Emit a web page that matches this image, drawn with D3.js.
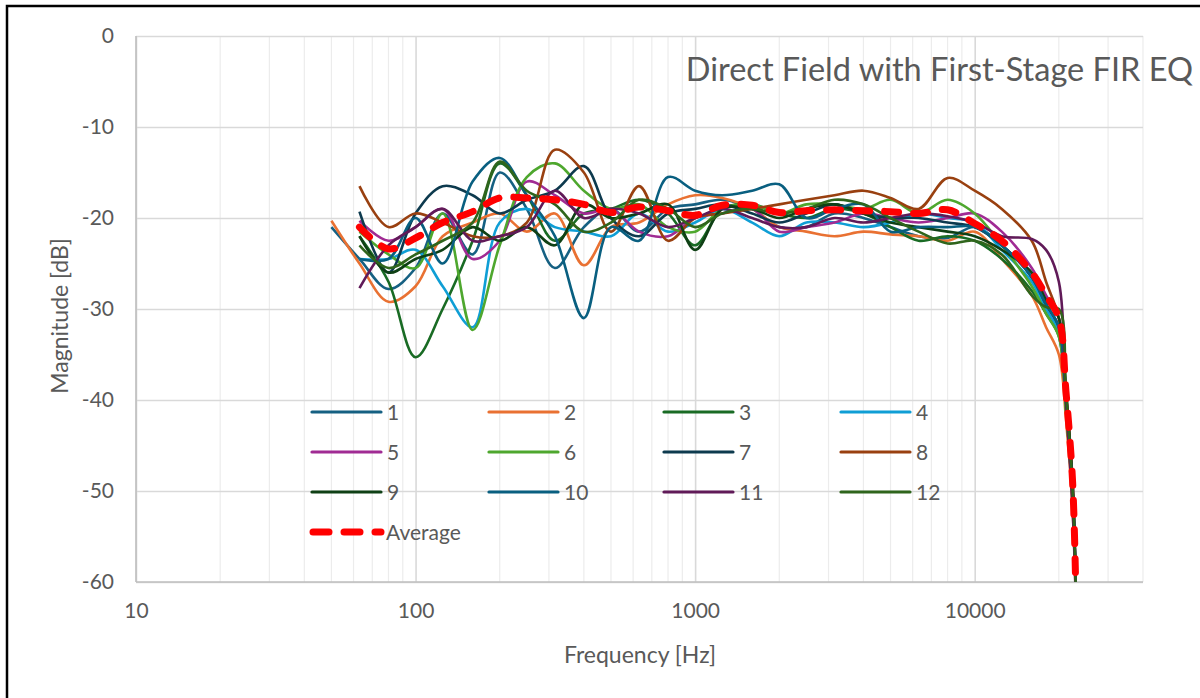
<!DOCTYPE html>
<html>
<head>
<meta charset="utf-8">
<script src="https://cdn.jsdelivr.net/npm/d3@7"></script>
<style>
  body { margin: 0; background: #fff; }
  svg { display: block; font-family: Lato, "Open Sans", sans-serif; }
</style>
</head>
<body>
<svg id="chart" width="1200" height="698"></svg>
<script>
// Frequencies (Hz) shared by every series
var freqs = [50, 63, 80, 100, 125, 160, 200, 250, 315, 400, 500, 630, 800, 1000, 1250, 1600,
    2000, 2500, 3150, 4000, 5000, 6300, 8000, 10000, 12500, 16000, 18000, 20000, 21200, 22400, 23000];

// Magnitudes (dB), null where a series has no point
var s1 = [-21.0, -24.5, -27.8, -25.5, -19.5, -24.0, -15.0, -19.0, -25.5, -21.0, -19.0, -21.5, -19.0, -18.5, -18.0, -19.0,
    -21.0, -21.0, -19.5, -20.0, -21.0, -22.0, -22.2, -21.0, -23.0, -26.5, -29.5, -32.0, -40.0, -50.0, -61.0];
var s2 = [-20.3, -25.0, -29.2, -27.5, -22.0, -20.5, -19.5, -21.5, -19.5, -25.2, -21.0, -20.5, -18.5, -17.5, -17.8, -19.0,
    -21.0, -21.5, -22.0, -21.5, -21.8, -22.0, -22.5, -21.5, -24.5, -28.5, -32.0, -35.0, -42.0, -52.0, -62.0];
var s3 = [null, -22.0, -27.0, -35.3, -30.0, -22.5, -14.0, -17.5, -22.5, -19.5, -19.0, -18.0, -19.5, -23.0, -19.0, -18.5,
    -19.5, -20.0, -19.0, -19.5, -21.0, -22.5, -22.0, -22.5, -24.5, -28.0, -30.5, -33.0, -41.0, -51.0, -61.0];
var s4 = [null, -24.5, -24.5, -23.5, -27.5, -32.0, -20.5, -19.0, -21.0, -21.5, -22.0, -19.5, -21.5, -20.5, -19.0, -20.5,
    -22.0, -20.5, -20.5, -21.0, -20.5, -19.5, -20.0, -20.5, -23.5, -27.0, -30.0, -32.5, -40.0, -50.0, -61.0];
var s5 = [null, -20.3, -22.5, -21.0, -19.0, -24.5, -22.5, -16.0, -17.5, -19.5, -19.0, -21.5, -22.0, -20.0, -19.5, -19.0,
    -21.5, -21.0, -20.5, -19.5, -20.0, -20.5, -20.0, -19.5, -21.5, -25.5, -28.5, -31.0, -39.0, -49.0, -61.0];
var s6 = [null, -21.5, -24.0, -25.5, -19.5, -32.3, -23.0, -15.5, -14.0, -17.0, -19.0, -18.5, -21.0, -21.5, -19.0, -18.5,
    -19.5, -18.5, -18.5, -19.0, -18.0, -19.5, -18.0, -19.5, -23.0, -27.5, -30.5, -33.0, -41.0, -51.0, -61.0];
var s7 = [null, -19.3, -26.0, -19.5, -16.5, -17.5, -19.5, -18.0, -17.0, -14.3, -20.0, -22.0, -19.5, -19.0, -18.5, -19.5,
    -20.5, -19.5, -18.5, -19.5, -20.0, -20.0, -20.5, -21.0, -23.0, -26.5, -29.5, -32.0, -40.0, -50.0, -61.0];
var s8 = [null, -16.5, -21.0, -19.5, -20.5, -22.0, -22.0, -20.5, -12.5, -15.0, -21.5, -16.5, -22.5, -20.0, -19.5, -19.0,
    -18.5, -18.0, -17.5, -17.0, -17.8, -19.0, -15.6, -17.0, -19.0, -22.5, -27.0, -31.0, -39.0, -49.0, -61.0];
var s9 = [null, -22.0, -26.0, -24.5, -23.5, -21.0, -22.5, -21.0, -23.0, -18.5, -20.0, -19.5, -18.5, -23.5, -19.0, -19.0,
    -20.0, -19.0, -18.5, -19.5, -20.5, -21.0, -21.5, -22.0, -23.5, -26.0, -29.0, -31.0, -39.0, -49.0, -61.0];
var s10 = [null, -24.5, -24.5, -20.0, -25.0, -16.0, -13.4, -17.5, -22.0, -31.0, -21.0, -22.5, -15.5, -17.0, -17.5, -17.0,
    -16.3, -20.0, -19.0, -18.5, -21.5, -21.0, -21.0, -21.0, -23.0, -26.5, -29.5, -32.0, -40.0, -50.0, -61.0];
var s11 = [null, -27.7, -23.0, -21.0, -19.0, -22.5, -22.0, -21.0, -17.0, -20.0, -19.0, -19.5, -21.0, -20.0, -19.0, -20.0,
    -21.0, -21.0, -20.0, -20.5, -20.0, -19.5, -19.8, -20.5, -22.0, -22.3, -23.5, -27.0, -40.0, -52.0, -62.0];
var s12 = [null, -23.0, -25.5, -24.0, -22.5, -20.5, -13.8, -17.0, -18.5, -21.5, -20.5, -18.0, -19.0, -21.0, -19.5, -19.0,
    -19.5, -19.0, -18.0, -18.5, -20.0, -21.5, -22.8, -22.5, -24.0, -28.5, -29.8, -30.0, -39.0, -50.0, -61.0];
var avg = [null, -21.0, -23.4, -22.2, -20.5, -19.3, -17.8, -17.8, -18.0, -18.5, -19.4, -18.8, -19.2, -19.7, -18.6, -18.6,
    -19.4, -19.2, -19.1, -19.2, -19.3, -19.5, -19.1, -20.6, -22.5, -26.0, -28.5, -31.0, -39.0, -49.0, -61.0];

var seriesValues = [s1, s2, s3, s4, s5, s6, s7, s8, s9, s10, s11, s12];
var seriesNames = ["1", "2", "3", "4", "5", "6", "7", "8", "9", "10", "11", "12"];
var seriesColors = ["#156082", "#E97132", "#196B24", "#0F9ED5", "#A02B93", "#4EA72E",
    "#0D3A4E", "#994010", "#0F4015", "#095F80", "#601A58", "#2F651C"];

var xTicks = [10, 100, 1000, 10000];
var yTicks = [0, -10, -20, -30, -40, -50, -60];

// Define margins
var margin = { top: 36, right: 57, bottom: 116, left: 136 },
    width = 1200 - margin.left - margin.right,
    height = 698 - margin.top - margin.bottom;

var grey = "#595959";

var root = d3.select("#chart");

// Outer frame of the pasted picture
root.append("rect")
    .attr("x", 7).attr("y", 6)
    .attr("width", 1400).attr("height", 900)
    .attr("fill", "none")
    .attr("stroke", "#000")
    .attr("stroke-width", 2.5);

var svg = root.append("g")
    .attr("transform", "translate(" + margin.left + "," + margin.top + ")");

// Define scales
var xScale = d3.scaleLog().domain([10, 40000]).range([0, width]);
var yScale = d3.scaleLinear().domain([-60, 0]).range([height, 0]);

// Minor log gridlines
var minor = [];
[10, 100, 1000, 10000].forEach(function (dec) {
    for (var k = 2; k <= 9; k++) {
        if (dec * k <= 40000) minor.push(dec * k);
    }
});

svg.append("g")
    .selectAll("line")
    .data(minor)
    .enter()
    .append("line")
    .attr("x1", function (d) { return xScale(d); })
    .attr("x2", function (d) { return xScale(d); })
    .attr("y1", 0)
    .attr("y2", height)
    .attr("stroke", "#ececec")
    .attr("stroke-width", 1.2);

// Major gridlines
svg.append("g")
    .attr("class", "x grid")
    .attr("transform", "translate(0," + height + ")")
    .call(d3.axisBottom(xScale).tickValues(xTicks).tickSize(-height).tickFormat(""))
    .call(function (g) { g.select(".domain").remove(); })
    .selectAll("line")
    .attr("stroke", "#d9d9d9")
    .attr("stroke-width", 1.6);

svg.append("g")
    .attr("class", "y grid")
    .call(d3.axisLeft(yScale).tickValues(yTicks).tickSize(-width).tickFormat(""))
    .call(function (g) { g.select(".domain").remove(); })
    .selectAll("line")
    .attr("stroke", "#d9d9d9")
    .attr("stroke-width", 1.6);

// Axis lines
svg.append("line")
    .attr("x1", 0).attr("x2", 0).attr("y1", 0).attr("y2", height)
    .attr("stroke", "#bfbfbf").attr("stroke-width", 1.6);
svg.append("line")
    .attr("x1", 0).attr("x2", width).attr("y1", height).attr("y2", height)
    .attr("stroke", "#bfbfbf").attr("stroke-width", 1.6);

// Tick labels (plain hyphen, as in the original)
var xAxis = svg.append("g")
    .attr("transform", "translate(0," + height + ")")
    .call(d3.axisBottom(xScale).tickValues(xTicks).tickSize(0).tickPadding(21).tickFormat(function (d) { return String(d); }));
xAxis.select(".domain").remove();
xAxis.selectAll("text").attr("fill", grey).style("font-size", "21px").style("font-family", "Lato, sans-serif");

var yAxis = svg.append("g")
    .call(d3.axisLeft(yScale).tickValues(yTicks).tickSize(0).tickPadding(22).tickFormat(function (d) { return String(d); }));
yAxis.select(".domain").remove();
yAxis.selectAll("text").attr("fill", grey).style("font-size", "21px").style("font-family", "Lato, sans-serif");

// Axis titles
svg.append("text")
    .attr("x", 640 - margin.left)
    .attr("y", 663 - margin.top)
    .attr("text-anchor", "middle")
    .attr("fill", grey)
    .style("font-size", "23px")
    .text("Frequency [Hz]");

svg.append("text")
    .attr("transform", "rotate(-90)")
    .attr("x", -(316 - margin.top))
    .attr("y", 68 - margin.left)
    .attr("text-anchor", "middle")
    .attr("fill", grey)
    .style("font-size", "23px")
    .text("Magnitude [dB]");

// Chart title
svg.append("text")
    .attr("x", 1193 - margin.left)
    .attr("y", 81 - margin.top)
    .attr("text-anchor", "end")
    .attr("fill", grey)
    .style("font-size", "32.5px")
    .text("Direct Field with First-Stage FIR EQ");

// Clip the curves to the plot area
svg.append("clipPath")
    .attr("id", "plot-clip")
    .append("rect")
    .attr("width", width)
    .attr("height", height);

var line = d3.line()
    .defined(function (d) { return d.v !== null; })
    .curve(d3.curveCatmullRom.alpha(0.5))
    .x(function (d) { return xScale(d.f); })
    .y(function (d) { return yScale(d.v); });

function points(vals) {
    return freqs.map(function (f, i) { return { f: f, v: vals[i] }; });
}

var plot = svg.append("g").attr("clip-path", "url(#plot-clip)");

plot.selectAll(".series")
    .data(seriesValues)
    .enter()
    .append("path")
    .attr("class", "series")
    .attr("fill", "none")
    .attr("stroke", function (d, i) { return seriesColors[i]; })
    .attr("stroke-width", 2.6)
    .attr("stroke-linejoin", "round")
    .attr("d", function (d) { return line(points(d)); });

plot.append("path")
    .attr("fill", "none")
    .attr("stroke", "#ff0000")
    .attr("stroke-width", 7)
    .attr("stroke-linecap", "round")
    .attr("stroke-dasharray", "14,15")
    .attr("d", line(points(avg)));

// Legend
var legendCols = [312, 489, 664, 841];
var legendRows = [412, 452, 492];

var legend = root.append("g");
seriesNames.forEach(function (name, i) {
    var lx = legendCols[i % 4], ly = legendRows[Math.floor(i / 4)];
    legend.append("line")
        .attr("x1", lx).attr("x2", lx + 69)
        .attr("y1", ly).attr("y2", ly)
        .attr("stroke", seriesColors[i])
        .attr("stroke-width", 3.2)
        .attr("stroke-linecap", "round");
    legend.append("text")
        .attr("x", lx + 75)
        .attr("y", ly + 8)
        .attr("fill", grey)
        .style("font-size", "21px")
        .text(name);
});

legend.append("line")
    .attr("x1", 313).attr("x2", 381)
    .attr("y1", 532).attr("y2", 532)
    .attr("stroke", "#ff0000")
    .attr("stroke-width", 7)
    .attr("stroke-linecap", "round")
    .attr("stroke-dasharray", "16,15");
legend.append("text")
    .attr("x", 386)
    .attr("y", 540)
    .attr("fill", grey)
    .style("font-size", "21px")
    .text("Average");
</script>
</body>
</html>
